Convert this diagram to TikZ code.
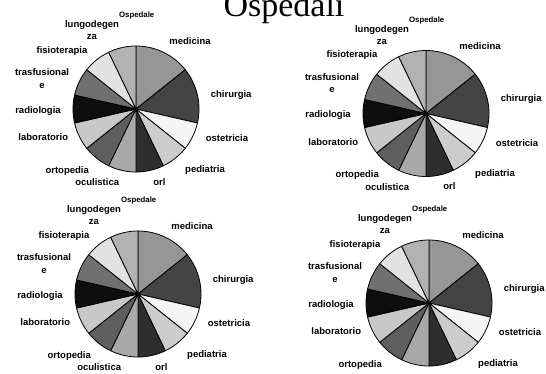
\documentclass[tikz,border=0pt]{standalone}
\usepackage{fontspec}
\setmainfont{Liberation Serif}
\newfontfamily\labelfont{Liberation Sans}

% slice fills, one grey per ward
\definecolor{cmed}{RGB}{150,150,150}
\definecolor{cchi}{RGB}{68,68,68}
\definecolor{cost}{RGB}{245,245,245}
\definecolor{cped}{RGB}{204,204,204}
\definecolor{corl}{RGB}{46,46,46}
\definecolor{cocu}{RGB}{168,168,168}
\definecolor{cort}{RGB}{94,94,94}
\definecolor{clab}{RGB}{200,200,200}
\definecolor{crad}{RGB}{14,14,14}
\definecolor{ctra}{RGB}{112,112,112}
\definecolor{cfis}{RGB}{226,226,226}
\definecolor{clun}{RGB}{178,178,178}

% one pie with its ward labels; #1 name prefix, #2/#3 centre
\newcommand\hospie[3]{%
  \begin{scope}[shift={(#2,#3)}]
    \foreach \sa/\ea/\col in {-90/-38.571/cmed, -38.571/12.857/cchi,
        12.857/38.571/cost, 38.571/64.286/cped, 64.286/90/corl,
        90/115.714/cocu, 115.714/141.429/cort, 141.429/167.143/clab,
        167.143/192.857/crad, 192.857/218.571/ctra,
        218.571/244.286/cfis, 244.286/270/clun}
      {\filldraw[slice, fill=\col] (0,0) -- (\sa:63)
         arc[start angle=\sa, end angle=\ea, radius=63] -- cycle;}
    \node[smalllbl] (#1-ospedale) at (0.7,-91.5) {Ospedale};
    \node[lbl, anchor=north] (#1-lungo) at (-44,-88.5) {lungodegen\\za};
    \node[lbl] (#1-medicina) at (54,-64.3) {medicina};
    \node[lbl] (#1-fisio) at (-74,-56) {fisioterapia};
    \node[lbl, anchor=north] (#1-trasf) at (-94,-40.1) {trasfusional\\e};
    \node[lbl] (#1-chirurgia) at (95.2,-11.7) {chirurgia};
    \node[lbl] (#1-radiologia) at (-98,4) {radiologia};
    \node[lbl] (#1-laboratorio) at (-92.7,31.7) {laboratorio};
    \node[lbl] (#1-ostetricia) at (91,32.5) {ostetricia};
    \node[lbl] (#1-ortopedia) at (-68.8,64) {ortopedia};
    \node[lbl] (#1-pediatria) at (69,63.3) {pediatria};
  \end{scope}}

% the two lowest labels of a pie
\newcommand\hosbottom[3]{%
  \begin{scope}[shift={(#2,#3)}]
    \node[lbl] (#1-oculistica) at (-38.8,76.7) {oculistica};
    \node[lbl] (#1-orl) at (23.5,76) {orl};
  \end{scope}}

\begin{document}
\begin{tikzpicture}[x=1pt, y=-1pt,
    slice/.style={draw=black, line width=0.8pt, line join=round},
    lbl/.style={font=\labelfont\bfseries\fontsize{9.5}{12.4}\selectfont,
                inner sep=0pt, anchor=base, align=center},
    smalllbl/.style={font=\labelfont\bfseries\fontsize{7.8}{9}\selectfont,
                inner sep=0pt, anchor=base},
    titlelbl/.style={font=\fontsize{34}{40}\selectfont, inner sep=0pt, anchor=base}]
  \useasboundingbox (0,0) rectangle (546,373);

  \node[titlelbl] (title) at (284,16) {Ospedali};

  \hospie{pa}{136}{109}
  \hosbottom{pa}{136}{109}
  \hospie{pb}{426}{113.5}
  \hosbottom{pb}{426}{113.5}
  \hospie{pc}{138}{294}
  \hosbottom{pc}{138}{294}
  \hospie{pd}{429}{303}
\end{tikzpicture}
\end{document}
